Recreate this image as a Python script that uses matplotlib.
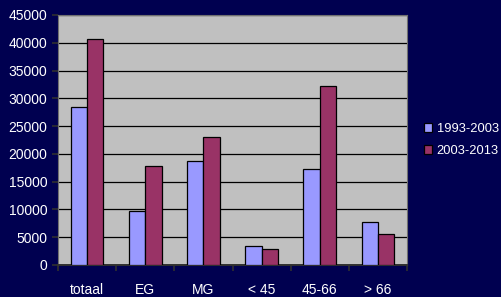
import matplotlib
matplotlib.use("Agg")
import matplotlib.pyplot as plt
import numpy as np

categories = ["totaal", "EG", "MG", "< 45", "45-66", "> 66"]
series_a = [28500, 9700, 18800, 3500, 17300, 7700]
series_b = [40600, 17800, 23000, 2900, 32200, 5600]
labels = ["1993-2003", "2003-2013"]

plt.rcParams["font.family"] = ["Liberation Sans", "DejaVu Sans"]

bg = "#000050"
fig = plt.figure(figsize=(5.02, 2.97), dpi=100, facecolor=bg)
ax = fig.add_axes([58 / 502, 1 - 265 / 297, 349 / 502, 250 / 297])
ax.set_facecolor("#C0C0C0")

x = np.arange(len(categories))
w = 0.28
ax.bar(x - w / 2, series_a, w, color="#9999FF", edgecolor="black", linewidth=0.9,
       label=labels[0], zorder=3)
ax.bar(x + w / 2, series_b, w, color="#993366", edgecolor="black", linewidth=0.9,
       label=labels[1], zorder=3)

ax.set_xlim(-0.5, len(categories) - 0.5)
ax.set_ylim(0, 45000)
ax.set_yticks(range(0, 45001, 5000))
ax.yaxis.grid(True, color="black", linewidth=0.9, zorder=1)

ax.set_xticks(x)
ax.set_xticklabels(categories)
ax.set_xticks(np.arange(-0.5, len(categories)), minor=True)
ax.tick_params(axis="x", which="major", length=0, pad=13, colors="white", labelsize=10)
ax.tick_params(axis="x", which="minor", length=4, direction="out", color="#303030", width=1.2)
ax.tick_params(axis="y", length=4, direction="out", color="#303030", colors="white",
               labelsize=10, width=1.2)

for side in ["top", "right", "left"]:
    ax.spines[side].set_color("#707070")
ax.spines["bottom"].set_color("#303030")
ax.spines["bottom"].set_linewidth(1.4)

leg = fig.legend(loc="center left", bbox_to_anchor=(412 / 502, 1 - 140 / 297),
                 frameon=False, fontsize=9.3, handlelength=0.65, handleheight=0.65,
                 handletextpad=0.35, labelspacing=0.8)
for t in leg.get_texts():
    t.set_color("white")

fig.savefig("out.png", dpi=100, facecolor=bg)
